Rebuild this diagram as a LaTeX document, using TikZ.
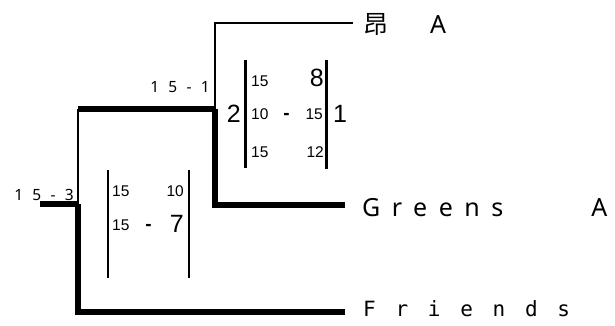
\documentclass[tikz,border=0pt]{standalone}
\usepackage{fontspec}
\setmainfont{Liberation Sans}
\newfontfamily\scorefont[LetterSpace=60]{Noto Sans}
\newfontfamily\leaffont[LetterSpace=46]{Noto Sans}
\newfontfamily\monoleaf[LetterSpace=94]{DejaVu Sans Mono}
\newfontfamily\cjkfont{Noto Sans CJK SC}
\tikzset{
  thickline/.style={line width=6pt,line join=miter},
  thinline/.style={line width=1.2pt},
  barline/.style={line width=2.6pt},
  num/.style={inner sep=0pt,font=\fontsize{15.5}{15.5}\selectfont},
  bignum/.style={inner sep=0pt,font=\fontsize{25}{25}\selectfont},
  dashnum/.style={inner sep=0pt,anchor=base,font=\fontsize{19}{19}\bfseries},
  score/.style={inner sep=0pt,font=\fontsize{15.5}{15.5}\scorefont},
}
\begin{document}
\begin{tikzpicture}[x=1pt,y=-1pt]
            \useasboundingbox (0,0) rectangle (615,326);
            \coordinate (root) at (40,204);
            \coordinate (j1) at (78,204);
            \coordinate (c1) at (78,109);
            \coordinate (j2) at (215,109);
            \coordinate (tF) at (345,312);
            \coordinate (tG) at (345,205);
            \coordinate (tS) at (353,23);
            \draw[thickline](root)--(j1);
            \draw[thickline](j1)|-(tF);
            \draw[thinline](j1)--(c1);
            \draw[thickline](c1)--(j2);
            \draw[thickline](j2)|-(tG);
            \draw[thinline](j2)|-(tS);
            \node[score,anchor=base east] (s3) at (74,200){15-3};
            \node[score,anchor=base east] (s1) at (210,93){15-1};
            \node[inner sep=0pt,anchor=base west,font=\fontsize{25}{25}\selectfont] (leafS) at (363,34){\cjkfont 昂\hspace{42pt}\leaffont A};
            \node[inner sep=0pt,anchor=base west,font=\fontsize{25}{25}\leaffont] (leafG) at (362,216){Greens\hspace{88pt}A};
            \node[inner sep=0pt,anchor=base west,font=\fontsize{21}{21}\monoleaf] (leafF) at (363,316){Friends};
            % upper table
            \coordinate (m1a) at (245.5,60);
            \coordinate (m1b) at (245.5,168);
            \coordinate (m1c) at (326.5,60);
            \coordinate (m1d) at (326.5,169);
            \draw[barline](m1a)--(m1b);
            \draw[barline](m1c)--(m1d);
            \node[bignum,anchor=base east] (m1l) at (241,123){2};
            \node[bignum,anchor=base west] (m1r) at (333,123){1};
            \node[num,anchor=base west] (m1x) at (251,87){15};
            \node[bignum,anchor=base east] (m1y) at (324,87){8};
            \node[num,anchor=base west] (m1z) at (251,120){10};
            \node[dashnum] (m1s) at (286.5,120){-};
            \node[num,anchor=base east] (m1w) at (323,120){15};
            \node[num,anchor=base west] (m1u) at (251,157){15};
            \node[num,anchor=base east] (m1v) at (324,157){12};
            % lower table
            \coordinate (m2a) at (108,170);
            \coordinate (m2b) at (108,278);
            \coordinate (m2c) at (189,170);
            \coordinate (m2d) at (189,278);
            \draw[barline](m2a)--(m2b);
            \draw[barline](m2c)--(m2d);
            \node[num,anchor=base west] (m2x) at (112,196){15};
            \node[num,anchor=base east] (m2y) at (184,196){10};
            \node[num,anchor=base west] (m2z) at (112,230){15};
            \node[dashnum] (m2s) at (148.5,230){-};
            \node[bignum,anchor=base east] (m2w) at (184,232){7};
\end{tikzpicture}
\end{document}
